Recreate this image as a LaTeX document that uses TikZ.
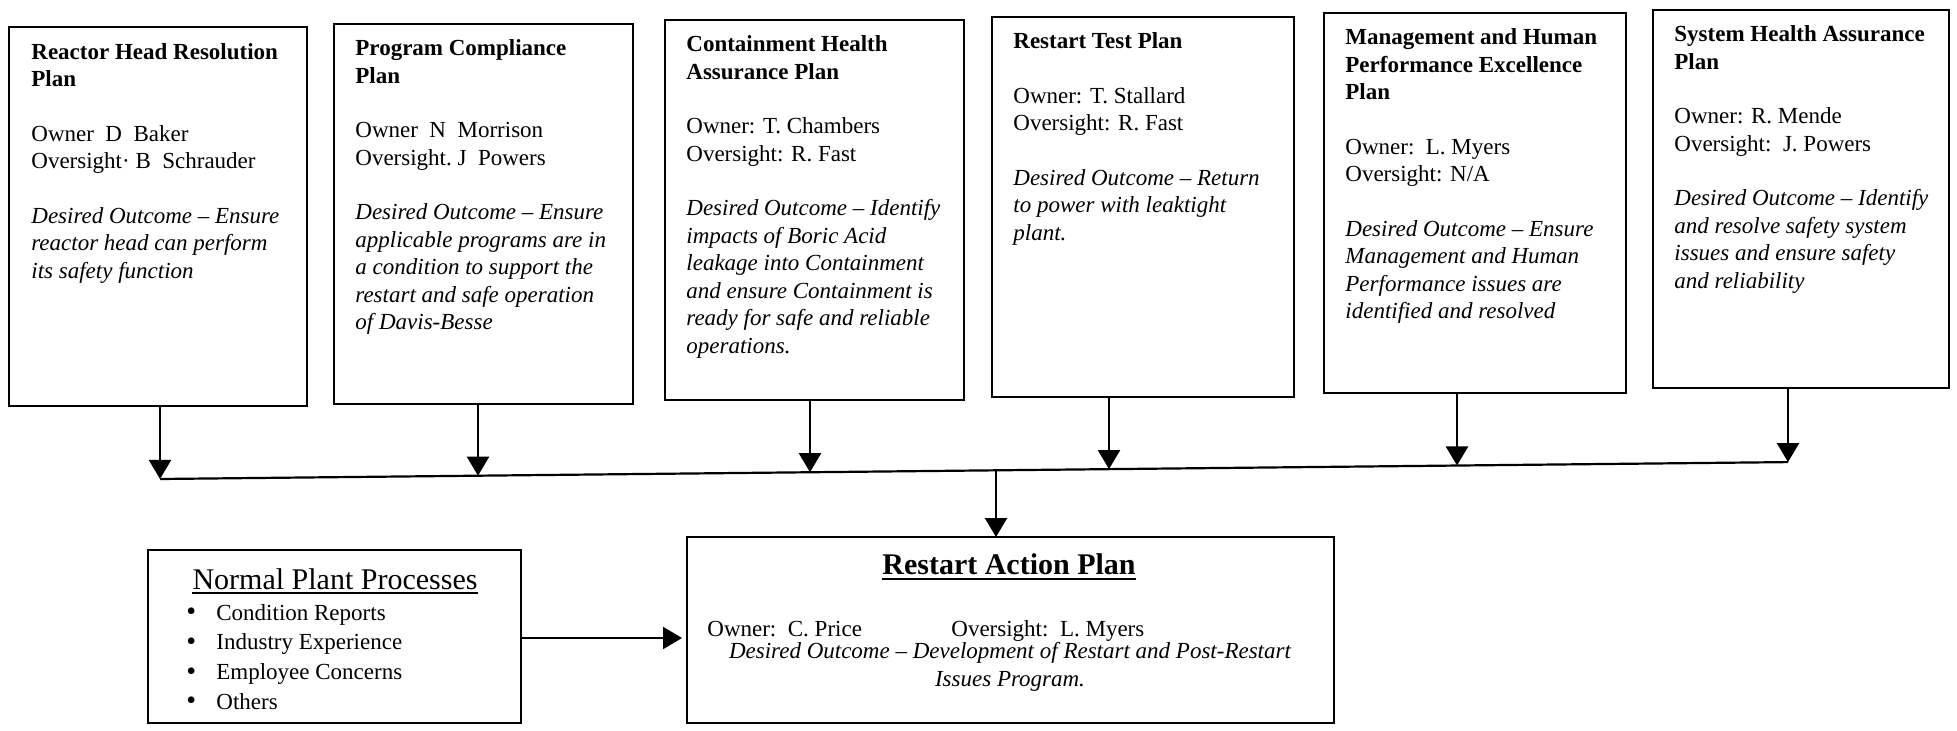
\documentclass[tikz,border=0pt]{standalone}
\usepackage{fontspec}
\setmainfont{Liberation Serif}
\usetikzlibrary{arrows.meta}

\newcommand{\itembullet}{\makebox[15pt][l]{\raisebox{-0.3pt}{\fontsize{14}{14}\selectfont\textbullet}}}

\begin{document}
\begin{tikzpicture}[x=0.5pt,y=-0.5pt,
  plan/.style={draw, line width=1.2pt, inner sep=0pt, outer sep=0pt, anchor=north west},
  % text blocks hang from their top; the strut fixes the first baseline
  plantext/.style={anchor=north west, align=left, inner sep=0pt,
    font=\fontsize{11.5}{13.75}\selectfont, execute at begin node=\strut},
  link/.style={line width=1.1pt},
  arr/.style={link, -{Triangle[width=11pt,length=9.5pt]}}
]
\useasboundingbox (0,0) rectangle (1957,731);

% --- the six supporting plans ---
\node[plan, minimum width=149pt,   minimum height=189.5pt] (b1) at (9,27) {};
\node[plan, minimum width=149.5pt, minimum height=190pt]   (b2) at (334,24) {};
\node[plan, minimum width=149.5pt, minimum height=190pt]   (b3) at (665,20) {};
\node[plan, minimum width=151pt,   minimum height=190pt]   (b4) at (992,17) {};
\node[plan, minimum width=151pt,   minimum height=190pt]   (b5) at (1324,13) {};
\node[plan, minimum width=148pt,   minimum height=189pt]   (b6) at (1653,10) {};

\node[plantext] (t1) at ([xshift=11pt,yshift=-8pt]b1.north west)
  {\textbf{Reactor Head Resolution}\\ \textbf{Plan}\\[13.5pt]
   Owner\ \ D\ \ Baker\\ Oversight·\ B\ \ Schrauder\\[13.5pt]
   \textit{Desired Outcome – Ensure}\\ \textit{reactor head can perform}\\
   \textit{its safety function}};
\node[plantext] (t2) at ([xshift=10.5pt,yshift=-7.6pt]b2.north west)
  {\textbf{Program Compliance}\\ \textbf{Plan}\\[13.5pt]
   Owner\ \ N\ \ Morrison\\ Oversight.\ J\ \ Powers\\[13.5pt]
   \textit{Desired Outcome – Ensure}\\ \textit{applicable programs are in}\\
   \textit{a condition to support the}\\ \textit{restart and safe operation}\\
   \textit{of Davis-Besse}};
\node[plantext] (t3) at ([xshift=10.5pt,yshift=-7.6pt]b3.north west)
  {\textbf{Containment Health}\\ \textbf{Assurance Plan}\\[13.5pt]
   Owner: T. Chambers\\ Oversight: R. Fast\\[13.5pt]
   \textit{Desired Outcome – Identify}\\ \textit{impacts of Boric Acid}\\
   \textit{leakage into Containment}\\ \textit{and ensure Containment is}\\
   \textit{ready for safe and reliable}\\ \textit{operations.}};
\node[plantext] (t4) at ([xshift=10.5pt,yshift=-7.6pt]b4.north west)
  {\textbf{Restart Test Plan}\\[13.5pt]
   Owner: T. Stallard\\ Oversight: R. Fast\\[13.5pt]
   \textit{Desired Outcome – Return}\\ \textit{to power with leaktight}\\
   \textit{plant.}};
\node[plantext] (t5) at ([xshift=10.5pt,yshift=-7.6pt]b5.north west)
  {\textbf{Management and Human}\\ \textbf{Performance Excellence}\\ \textbf{Plan}\\[13.5pt]
   Owner:\ \ L. Myers\\ Oversight: N/A\\[13.5pt]
   \textit{Desired Outcome – Ensure}\\ \textit{Management and Human}\\
   \textit{Performance issues are}\\ \textit{identified and resolved}};
\node[plantext] (t6) at ([xshift=10.5pt,yshift=-7.6pt]b6.north west)
  {\textbf{System Health Assurance}\\ \textbf{Plan}\\[13.5pt]
   Owner: R. Mende\\ Oversight:\ \ J. Powers\\[13.5pt]
   \textit{Desired Outcome – Identify}\\ \textit{and resolve safety system}\\
   \textit{issues and ensure safety}\\ \textit{and reliability}};

% --- collecting bus ---
\coordinate (j1) at (160,479);
\coordinate (j2) at (478,475.7);
\coordinate (j3) at (810,472.2);
\coordinate (j4) at (1109,469.1);
\coordinate (j5) at (1457,465.5);
\coordinate (j6) at (1788,462.1);
\coordinate (jc) at (996,470.3);

\draw[link] (j1) -- (j6);
\draw[arr] (b1.south -| j1) -- (j1);
\draw[arr] (b2.south -| j2) -- (j2);
\draw[arr] (b3.south -| j3) -- (j3);
\draw[arr] (b4.south -| j4) -- (j4);
\draw[arr] (b5.south -| j5) -- (j5);
\draw[arr] (b6.south -| j6) -- (j6);

% --- restart action plan ---
\node[plan, minimum width=323.5pt, minimum height=93pt] (rap) at (687,537) {};
\draw[arr] (jc) -- (rap.north -| jc);

\node[anchor=base, inner sep=0pt, font=\fontsize{15}{18}\selectfont\bfseries]
  (raptitle) at (1009,574) {Restart Action Plan};
\draw[line width=1pt] ([yshift=-2.5pt]raptitle.base west) -- ([yshift=-2.5pt]raptitle.base east);
\node[anchor=base west, inner sep=0pt, font=\fontsize{11.5}{13.75}\selectfont]
  (rapowner) at (707,636) {Owner:\ \ C. Price};
\node[anchor=base west, inner sep=0pt, font=\fontsize{11.5}{13.75}\selectfont]
  (rapsight) at (951,636) {Oversight:\ \ L. Myers};
\node[anchor=north, align=center, inner sep=0pt, font=\fontsize{11.5}{13.75}\selectfont\itshape,
  execute at begin node=\strut]
  (rapgoal) at (1010,642)
  {Desired Outcome – Development of Restart and Post-Restart\\ Issues Program.};

% --- normal plant processes ---
\node[plan, minimum width=186.5pt, minimum height=86.5pt] (npp) at (148,550) {};
\node[anchor=base, inner sep=0pt, font=\fontsize{15}{18}\selectfont]
  (npptitle) at (335,589) {Normal Plant Processes};
\draw[line width=0.8pt] ([yshift=-2pt]npptitle.base west) -- ([yshift=-2pt]npptitle.base east);
\node[anchor=north west, align=left, inner sep=0pt, font=\fontsize{11.5}{14.8}\selectfont,
  execute at begin node=\strut]
  (nppitems) at (186,604)
  {\itembullet Condition Reports\\
   \itembullet Industry Experience\\
   \itembullet Employee Concerns\\
   \itembullet Others};

\coordinate (na) at (521,638);
\draw[arr, shorten >=2.5pt] (npp.east |- na) -- (rap.west |- na);
\end{tikzpicture}
\end{document}
